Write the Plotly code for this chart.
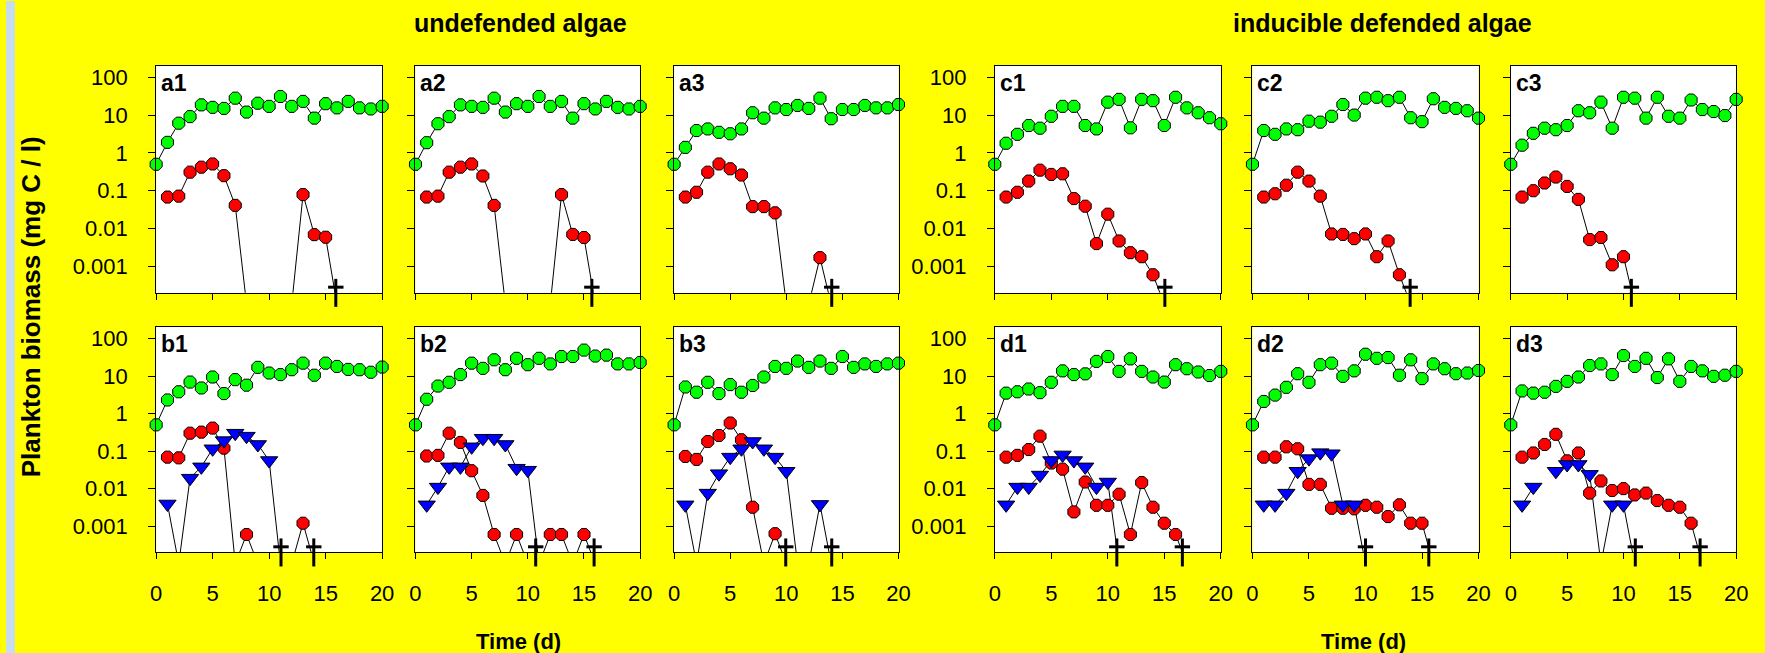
import plotly.graph_objects as go

# ---------------- data (0 = below detection, None = not sampled) ----------------
days = list(range(21))

a1_green = [0.5, 1.9, 6.1, 9.1, 18.6, 16, 15, 28, 12, 20.6, 17, 31, 17, 23, 8.3, 20, 15.5, 23, 15.5, 14.5, 17]
a1_red = [None, 0.068, 0.072, 0.31, 0.42, 0.51, 0.25, 0.041, 0, 0, 0, 0, 0, 0.079, 0.0069, 0.0059, 0, None, None, None, None]
a1_extinct = [15.9]

a2_green = [0.5, 1.86, 5.9, 9.1, 18.6, 17, 16, 28, 12, 20, 17, 31, 17, 23, 8.3, 20, 14.5, 23, 16, 14.5, 17]
a2_red = [None, 0.068, 0.072, 0.31, 0.42, 0.51, 0.245, 0.041, 0, 0, 0, 0, 0, 0.079, 0.007, 0.0058, 0, None, None, None, None]
a2_extinct = [15.7]

a3_green = [0.5, 1.4, 3.9, 4.3, 3.5, 3.2, 4.3, 11.5, 8.3, 15.5, 14, 18, 15, 28, 8, 14, 14, 18, 15.5, 15.5, 19]
a3_red = [None, 0.068, 0.091, 0.31, 0.51, 0.38, 0.26, 0.038, 0.038, 0.026, 0, 0, 0, 0.0017, 0, None, None, None, None, None, None]
a3_extinct = [14.05]

b1_green = [0.5, 2.3, 3.8, 6.9, 4.8, 9.4, 3.4, 8, 5.7, 17, 12, 10.9, 14.7, 22, 10.5, 22, 18, 15, 14.7, 12.6, 17.3]
b1_red = [None, 0.069, 0.066, 0.30, 0.32, 0.41, 0.12, 0, 0.0006, 0, 0, 0, 0, 0.0012, 0, None, None, None, None, None, None]
b1_blue = [None, 0.0039, 0, 0.019, 0.038, 0.115, 0.19, 0.30, 0.25, 0.15, 0.056, 0, None, None, None, None, None, None, None, None, None]
b1_extinct = [11.05, 13.95]

b2_green = [0.5, 2.4, 5.4, 6.8, 10.9, 22, 16, 27, 14.7, 29.6, 20, 29.6, 21, 33, 33, 49, 34, 36, 21, 21, 23]
b2_red = [None, 0.074, 0.077, 0.30, 0.17, 0.030, 0.0066, 0.0006, 0, 0.0006, 0, 0, 0.0006, 0.0006, 0, 0.0006, 0, None, None, None, None]
b2_blue = [None, 0.0037, 0.011, 0.038, 0.038, 0.13, 0.22, 0.22, 0.15, 0.035, 0.031, 0, None, None, None, None, None, None, None, None, None]
b2_extinct = [10.7, 15.9]

b3_green = [0.5, 5.1, 3.7, 6.8, 3.4, 5.9, 3.7, 5.6, 9.4, 18, 16, 25, 17, 25, 16, 33, 17, 21, 18, 21, 22]
b3_red = [None, 0.072, 0.060, 0.18, 0.26, 0.56, 0.20, 0.0032, 0, 0.00063, 0, None, None, None, None, None, None, None, None, None, None]
b3_blue = [None, 0.0037, 0, 0.0076, 0.025, 0.069, 0.115, 0.18, 0.115, 0.069, 0.029, 0, 0, 0.0038, 0, None, None, None, None, None, None]
b3_extinct = [9.95, 14.05]

c1_green = [0.5, 1.8, 3.1, 5.3, 4.5, 9.3, 17, 17, 5.3, 4.3, 22, 26, 4.6, 26, 24, 5.3, 29.6, 15.5, 11.5, 8.5, 5.9]
c1_red = [None, 0.068, 0.091, 0.18, 0.35, 0.27, 0.28, 0.062, 0.039, 0.004, 0.024, 0.0047, 0.0023, 0.0018, 0.0006, 0, None, None, None, None, None]
c1_extinct = [15.05]

c2_green = [0.5, 3.9, 3.1, 4.3, 4.1, 6.9, 6.5, 9.3, 19, 10, 28, 29.6, 24, 29.6, 8.5, 6.7, 27, 16, 15, 13, 8.3]
c2_red = [None, 0.068, 0.083, 0.14, 0.31, 0.18, 0.072, 0.0072, 0.007, 0.0054, 0.0072, 0.0018, 0.0047, 0.0006, 0, None, None, None, None, None, None]
c2_extinct = [13.95]

c3_green = [0.5, 1.6, 3.3, 4.5, 4.1, 5.3, 13, 11.5, 22, 4.5, 29.6, 28, 8.3, 29.6, 9.3, 8.3, 25, 14, 12.4, 9.7, 26]
c3_red = [None, 0.068, 0.1, 0.16, 0.23, 0.13, 0.059, 0.0051, 0.0058, 0.0011, 0.0018, 0, None, None, None, None, None, None, None, None, None]
c3_extinct = [10.7]

d1_green = [0.5, 3.5, 3.8, 4.5, 3.6, 6.8, 13.7, 10.9, 11.4, 24.5, 33, 13.3, 28.6, 13.3, 9.4, 6.9, 20, 15.6, 12.8, 10.3, 13.3]
d1_red = [None, 0.069, 0.077, 0.11, 0.25, 0.048, 0.033, 0.0024, 0.015, 0.0036, 0.0036, 0.0071, 0.0006, 0.0145, 0.0032, 0.0012, 0.0006, 0, None, None, None]
d1_blue = [None, 0.0037, 0.011, 0.011, 0.023, 0.056, 0.079, 0.056, 0.038, 0.011, 0.015, 0, None, None, None, None, None, None, None, None, None]
d1_extinct = [10.8, 16.6]

d2_green = [0.5, 2.1, 3.1, 5.0, 11.5, 6.8, 20, 22, 9.8, 13.7, 38, 29.6, 31, 10.5, 27, 8.5, 21, 15.6, 11.5, 12, 14]
d2_red = [None, 0.069, 0.069, 0.13, 0.115, 0.013, 0.013, 0.003, 0.003, 0.0029, 0.0036, 0.0032, 0.0018, 0.0037, 0.0012, 0.0012, 0, None, None, None, None]
d2_blue = [None, 0.0037, 0.0037, 0.0076, 0.029, 0.063, 0.091, 0.085, 0.0037, 0.0037, 0, None, None, None, None, None, None, None, None, None, None]
d2_extinct = [10.0, 15.6]

d3_green = [0.5, 4, 3.5, 3.7, 5.3, 7.2, 9.4, 19, 21, 10.9, 35, 18, 29.6, 9.1, 28.6, 7.2, 18, 13.7, 9.8, 10.5, 13.3]
d3_red = [None, 0.069, 0.089, 0.15, 0.28, 0.055, 0.089, 0.0076, 0.016, 0.0089, 0.010, 0.0068, 0.0076, 0.0048, 0.0036, 0.0032, 0.0012, 0, None, None, None]
d3_blue = [None, 0.0037, 0.011, None, 0.029, 0.044, 0.044, 0.024, 0, 0.0037, 0.0037, 0, None, None, None, None, None, None, None, None, None]
d3_extinct = [11.05, 16.8]

x_ticks = [0, 5, 10, 15, 20]
y_ticks = [0.001, 0.01, 0.1, 1, 10, 100]
y_tick_text = ["0.001", "0.01", "0.1", "1", "10", "100"]
group_titles = ["undefended algae", "inducible defended algae"]
x_title = "Time (d)"
y_title = "Plankton biomass (mg C / l)"

# ---------------- layout geometry (pixels) ----------------
W, H = 1765, 653
col_px = [(151.7, 380), (413.7, 640.7), (675, 901.7), (999, 1227.3), (1259.3, 1487.7), (1520.3, 1748)]
row_px = [(65, 292.3), (326.7, 552.3)]
Y_RANGE = [-3.7, 2.3]
ZERO_PLOT = 1e-4  # plotting floor for undetectable (zero) values

panels = [
    ("a1", 0, 0, a1_green, a1_red, None, a1_extinct),
    ("a2", 0, 1, a2_green, a2_red, None, a2_extinct),
    ("a3", 0, 2, a3_green, a3_red, None, a3_extinct),
    ("c1", 0, 3, c1_green, c1_red, None, c1_extinct),
    ("c2", 0, 4, c2_green, c2_red, None, c2_extinct),
    ("c3", 0, 5, c3_green, c3_red, None, c3_extinct),
    ("b1", 1, 0, b1_green, b1_red, b1_blue, b1_extinct),
    ("b2", 1, 1, b2_green, b2_red, b2_blue, b2_extinct),
    ("b3", 1, 2, b3_green, b3_red, b3_blue, b3_extinct),
    ("d1", 1, 3, d1_green, d1_red, d1_blue, d1_extinct),
    ("d2", 1, 4, d2_green, d2_red, d2_blue, d2_extinct),
    ("d3", 1, 5, d3_green, d3_red, d3_blue, d3_extinct),
]

FONT = "Liberation Sans, Arial, sans-serif"
TICK_FONT = dict(family=FONT, size=22, color="black")


def line_vals(vals):
    return [None if v is None else (ZERO_PLOT if v == 0 else v) for v in vals]


def marker_vals(vals):
    return [None if (v is None or v == 0) else v for v in vals]


fig = go.Figure()
layout = {}
annotations = []

for k, (label, r, c, green, red, blue, extinct) in enumerate(panels, start=1):
    xa = "x" if k == 1 else f"x{k}"
    ya = "y" if k == 1 else f"y{k}"
    x0, x1 = col_px[c]
    y0, y1 = row_px[r]
    layout["xaxis" if k == 1 else f"xaxis{k}"] = dict(
        domain=[x0 / W, x1 / W], anchor=ya, range=[0, 20],
        tickvals=x_ticks, ticktext=[str(t) for t in x_ticks],
        showticklabels=(r == 1), ticks="outside", ticklen=6, tickwidth=1, tickcolor="black",
        showline=True, mirror=True, linecolor="black", linewidth=1,
        showgrid=False, zeroline=False, tickfont=TICK_FONT, ticklabelstandoff=15,
    )
    layout["yaxis" if k == 1 else f"yaxis{k}"] = dict(
        domain=[(H - y1) / H, (H - y0) / H], anchor=xa, type="log", range=Y_RANGE,
        tickvals=y_ticks, ticktext=y_tick_text,
        showticklabels=(c in (0, 3)), ticks="outside", ticklen=7, tickwidth=1, tickcolor="black",
        showline=True, mirror=True, linecolor="black", linewidth=1,
        showgrid=False, zeroline=False, tickfont=TICK_FONT, ticklabelstandoff=16,
    )

    series = [(green, "#00FF00", "octagon", 13), (red, "#FF0000", "octagon", 13)]
    if blue is not None:
        series.append((blue, "#0000FF", "triangle-down", 15))

    for vals, col, sym, sz in series:
        fig.add_trace(go.Scatter(
            x=days, y=line_vals(vals), mode="lines", xaxis=xa, yaxis=ya,
            line=dict(color="black", width=1), connectgaps=False, showlegend=False, hoverinfo="skip",
        ))
    for vals, col, sym, sz in series:
        fig.add_trace(go.Scatter(
            x=days, y=marker_vals(vals), mode="markers", xaxis=xa, yaxis=ya, cliponaxis=False,
            marker=dict(color=col, symbol=sym, size=sz, line=dict(color="black", width=1)),
            showlegend=False,
        ))

    # extinction daggers at the bottom axis
    bottom = 10 ** Y_RANGE[0]
    fig.add_trace(go.Scatter(
        x=extinct, y=[bottom] * len(extinct), mode="markers", xaxis=xa, yaxis=ya, cliponaxis=False,
        marker=dict(symbol="line-ns", size=20, line=dict(color="black", width=3)),
        showlegend=False, hoverinfo="skip",
    ))
    fig.add_trace(go.Scatter(
        x=extinct, y=[10 ** (Y_RANGE[0] + 0.15)] * len(extinct), mode="markers", xaxis=xa, yaxis=ya,
        cliponaxis=False,
        marker=dict(symbol="line-ew", size=11, line=dict(color="black", width=3)),
        showlegend=False, hoverinfo="skip",
    ))

    annotations.append(dict(
        text=f"<b>{label}</b>", x=(x0 + 3) / W, y=(H - y0 - 2) / H, xref="paper", yref="paper",
        xanchor="left", yanchor="top", showarrow=False,
        font=dict(family=FONT, size=23, color="black"),
    ))

title_font = dict(family=FONT, size=25, color="black")
axis_title_font = dict(family=FONT, size=22, color="black")
annotations += [
    dict(text=f"<b>{group_titles[0]}</b>", x=520 / W, y=(H - 22) / H, xref="paper", yref="paper",
         xanchor="center", yanchor="middle", showarrow=False, font=title_font),
    dict(text=f"<b>{group_titles[1]}</b>", x=1391 / W, y=(H - 22) / H, xref="paper", yref="paper",
         xanchor="center", yanchor="middle", showarrow=False, font=title_font),
    dict(text=f"<b>{x_title}</b>", x=518 / W, y=(H - 641) / H, xref="paper", yref="paper",
         xanchor="center", yanchor="middle", showarrow=False, font=axis_title_font),
    dict(text=f"<b>{x_title}</b>", x=1371 / W, y=(H - 641) / H, xref="paper", yref="paper",
         xanchor="center", yanchor="middle", showarrow=False, font=axis_title_font),
    dict(text=f"<b>{y_title}</b>", x=25 / W, y=(H - 306) / H, xref="paper", yref="paper",
         xanchor="center", yanchor="middle", showarrow=False, textangle=-90,
         font=dict(family=FONT, size=26, color="black")),
]

fig.update_layout(
    **layout,
    annotations=annotations,
    shapes=[dict(type="rect", xref="paper", yref="paper", x0=0, x1=9 / W, y0=0, y1=1,
                 fillcolor="#C8DCF0", line=dict(width=0), layer="below")],
    width=W, height=H, autosize=False,
    margin=dict(l=0, r=0, t=0, b=0, pad=0),
    paper_bgcolor="#FFFF00", plot_bgcolor="white",
    showlegend=False,
)

fig.write_html(
    "out.html",
    config={"displayModeBar": False},
    post_script="document.body.style.margin='0px';document.body.style.overflow='hidden';",
)
